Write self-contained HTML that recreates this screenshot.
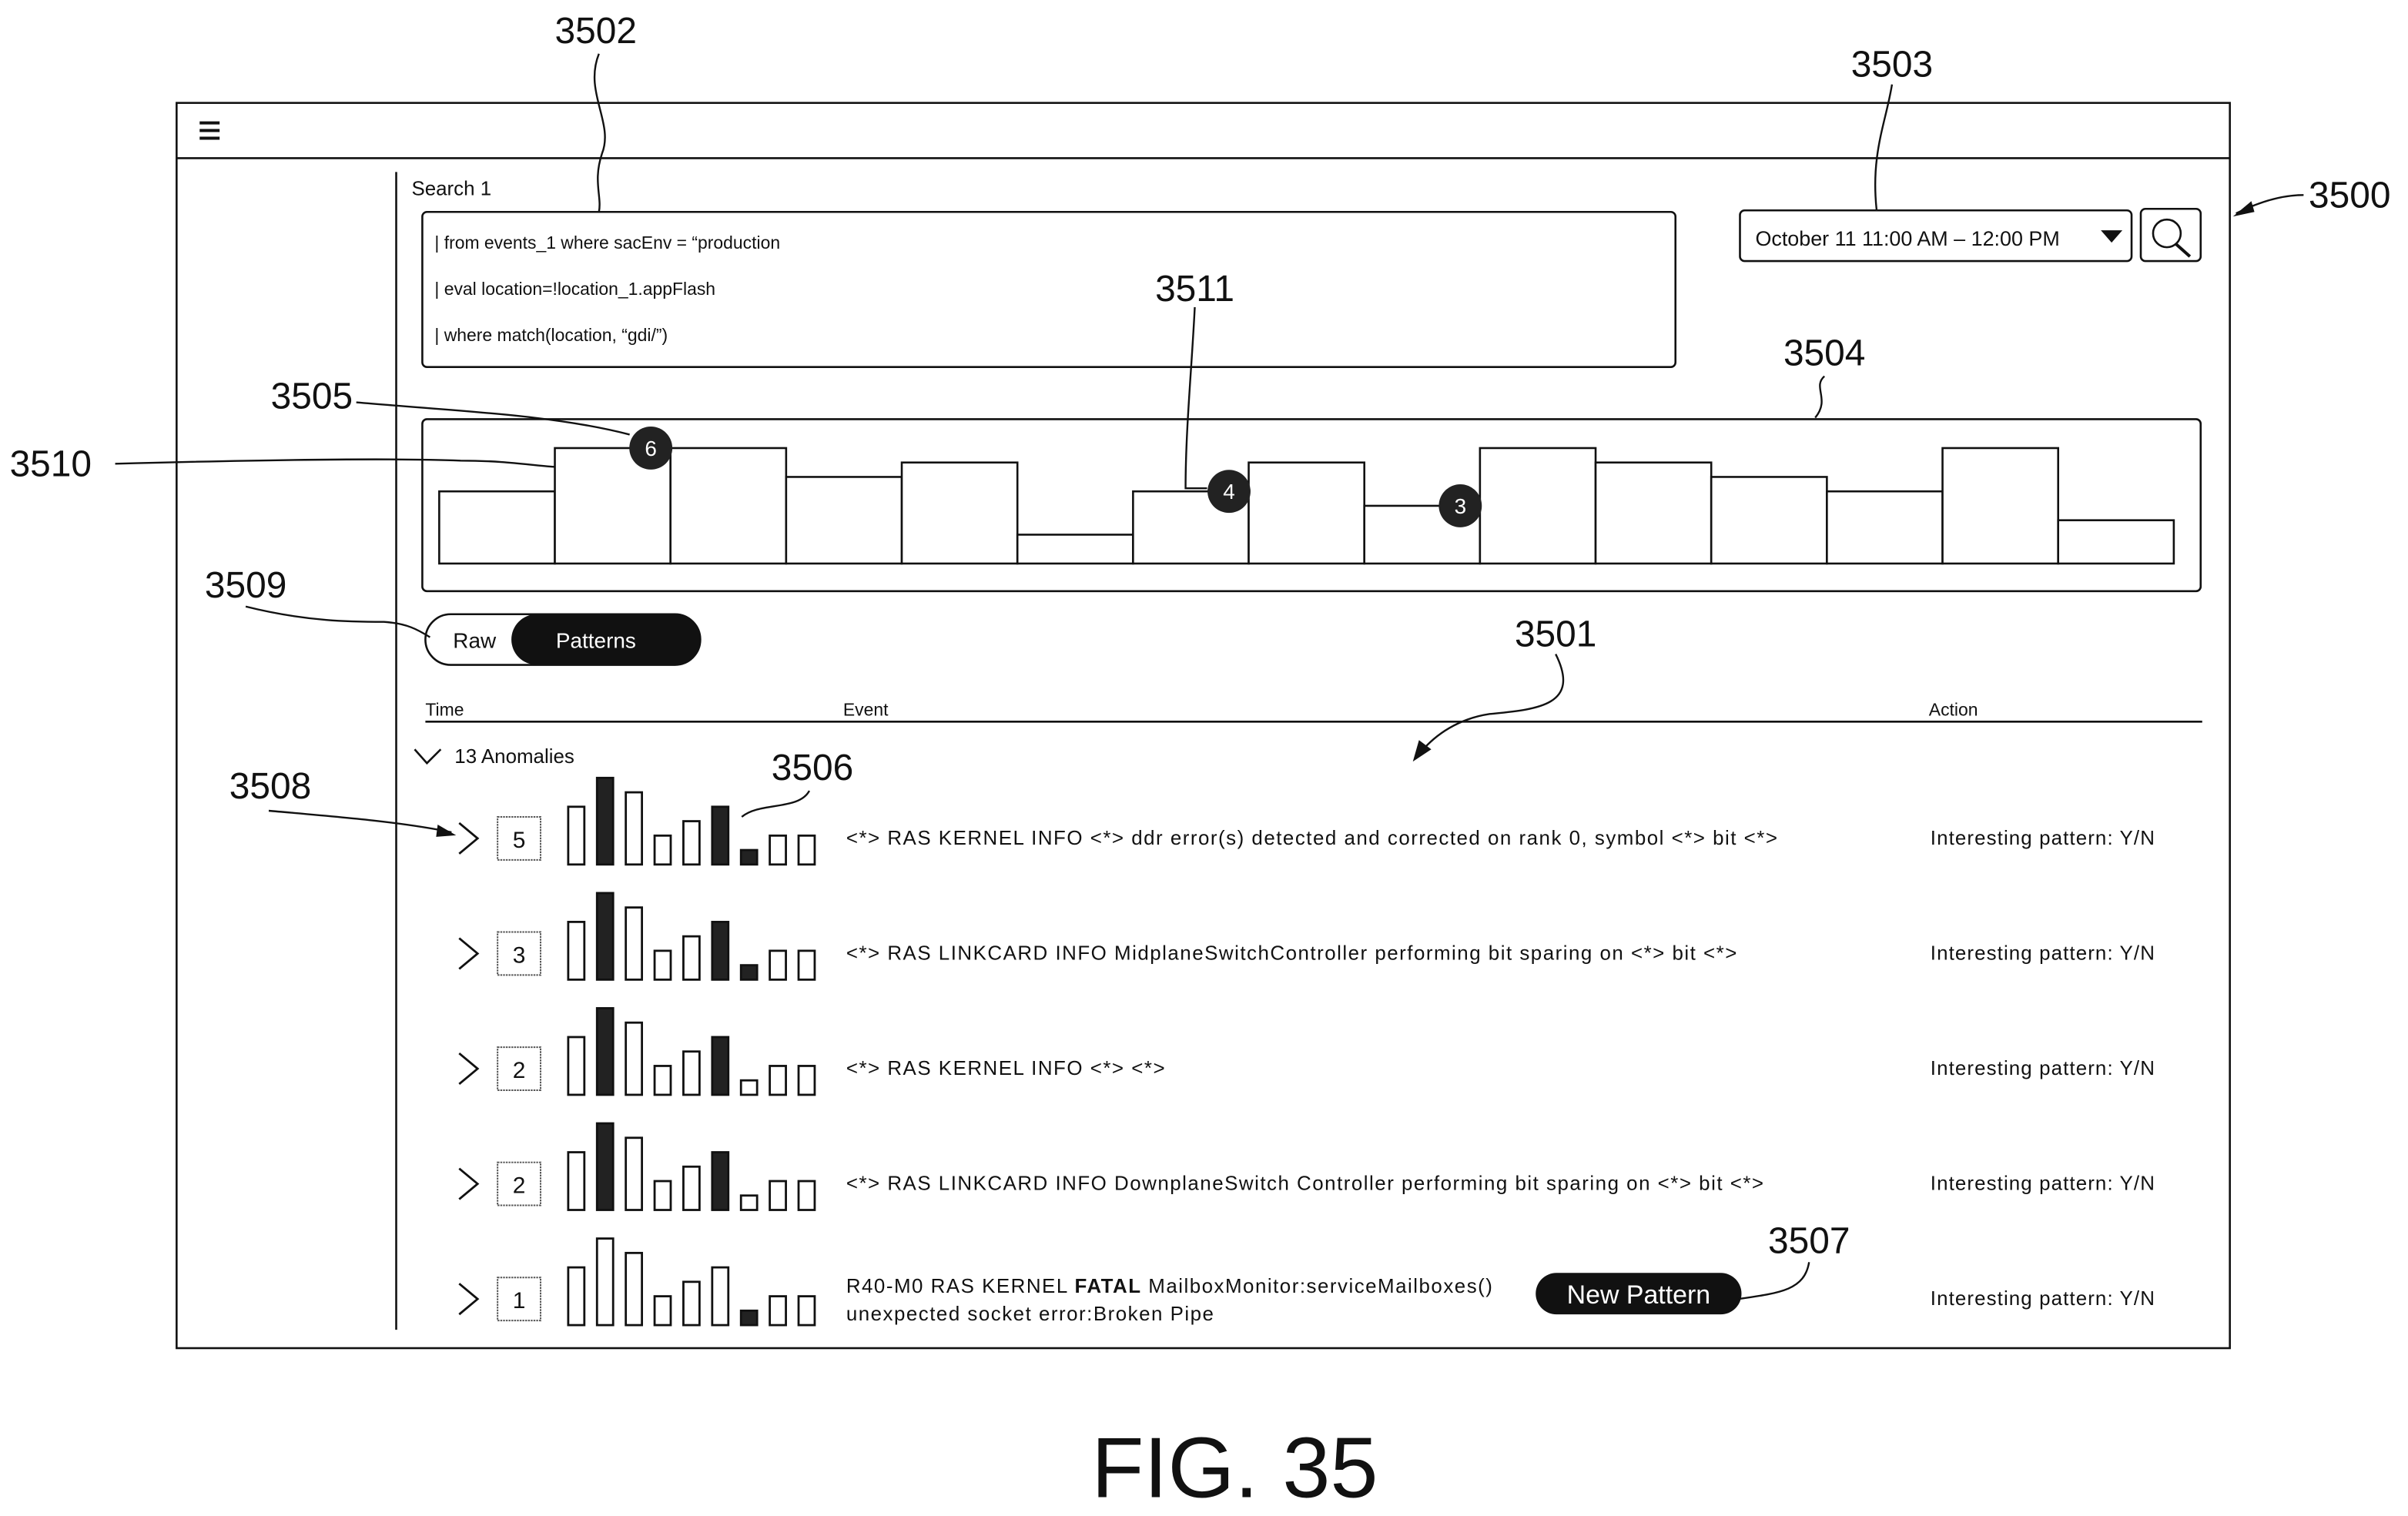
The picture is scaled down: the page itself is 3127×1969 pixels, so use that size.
<!DOCTYPE html>
<html><head><meta charset="utf-8"><style>
html,body{margin:0;padding:0;background:#fff}
svg{display:block}
text{font-family:"Liberation Sans",sans-serif;fill:#111}
</style></head><body>
<svg id="fig" width="3127" height="1969" viewBox="0 0 1568 987.3" xmlns="http://www.w3.org/2000/svg">
<g fill="none" stroke="#111" stroke-width="1.3">
<rect x="115" y="67" width="1337" height="811"/>
<line x1="115" y1="103" x2="1452" y2="103"/>
<line x1="258" y1="112" x2="258" y2="866"/>
<rect x="275" y="138" width="816" height="101" rx="3"/>
<rect x="1133" y="137" width="255" height="33" rx="3"/>
<rect x="1394" y="136" width="39" height="34" rx="3"/>
<circle cx="1411" cy="152" r="9"/>
<line x1="1417" y1="159" x2="1426" y2="167" stroke-width="2"/>
<rect x="275" y="273" width="1158" height="112" rx="3"/>
<line x1="277" y1="470" x2="1434" y2="470"/>
<polyline points="270,488 278,497 287,488"/>
</g>
<g stroke="#111" stroke-width="2">
<line x1="130" y1="80" x2="143" y2="80"/><line x1="130" y1="85" x2="143" y2="85"/><line x1="130" y1="90" x2="143" y2="90"/>
</g>
<text x="268" y="127" font-size="13">Search 1</text>
<text x="283" y="162" font-size="11.5">| from events_1 where sacEnv  = “production</text>
<text x="283" y="192" font-size="11.5">| eval location=!location_1.appFlash</text>
<text x="283" y="222" font-size="11.5">| where match(location, “gdi/”)</text>
<text x="1143" y="160" font-size="13.5">October 11 11:00 AM – 12:00 PM</text>
<polygon points="1368,150 1382,150 1375,158" fill="#111"/>
<g>
<rect x="277" y="400" width="179" height="33" rx="16.5" fill="#fff" stroke="#111" stroke-width="1.3"/>
<rect x="333" y="400" width="123" height="33" rx="16.5" fill="#111"/>
<text x="295" y="422" font-size="14">Raw</text>
<text x="362" y="422" font-size="14" style="fill:#fff">Patterns</text>
</g>
<text x="277" y="466" font-size="11.5">Time</text>
<text x="549" y="466" font-size="11.5">Event</text>
<text x="1256" y="466" font-size="11.5">Action</text>
<text x="296" y="497" font-size="13">13 Anomalies</text>
<g id="hist"></g>
<g id="rows"></g>
<g>
<rect x="1000" y="829" width="134" height="27" rx="13.5" fill="#111"/>
<text x="1067" y="849" font-size="17" text-anchor="middle" style="fill:#fff">New Pattern</text>
</g>
<g fill="none" stroke="#111" stroke-width="1.2">
<path d="M390,35 C380,60 400,80 392,100 C386,118 392,128 390,138"/>
<path d="M1232,55 C1228,80 1218,100 1222,137"/>
<path d="M1500,127 C1485,127 1470,132 1456,139"/>
<path d="M778,200 C776,240 772,280 772,318 L786,318"/>
<path d="M1188,245 C1180,252 1192,260 1182,272"/>
<path d="M232,262 C300,268 360,270 410,283"/>
<path d="M75,302 C150,300 250,298 300,300 C330,300 345,303 361,304"/>
<path d="M160,395 C200,405 230,405 250,405 C265,406 272,410 280,415"/>
<path d="M1013,426 C1030,460 1000,462 970,465 C950,468 935,478 925,490"/>
<path d="M175,528 C220,532 260,535 294,542"/>
<path d="M527,515 C520,528 495,522 483,532"/>
<path d="M1178,822 C1175,840 1160,842 1132,846"/>
</g>
<polygon points="1454,141 1466,131 1468,138" fill="#111"/>
<polygon points="920,496 924,482 932,488" fill="#111"/>
<polygon points="297,544 285,537 284,545" fill="#111"/>
<g font-size="24">
<text x="388" y="28" text-anchor="middle">3502</text>
<text x="1232" y="50" text-anchor="middle">3503</text>
<text x="1530" y="135" text-anchor="middle">3500</text>
<text x="778" y="196" text-anchor="middle">3511</text>
<text x="1188" y="238" text-anchor="middle">3504</text>
<text x="203" y="266" text-anchor="middle">3505</text>
<text x="33" y="310" text-anchor="middle">3510</text>
<text x="160" y="389" text-anchor="middle">3509</text>
<text x="1013" y="421" text-anchor="middle">3501</text>
<text x="176" y="520" text-anchor="middle">3508</text>
<text x="529" y="508" text-anchor="middle">3506</text>
<text x="1178" y="816" text-anchor="middle">3507</text>
</g>
<text x="804" y="975" font-size="56" text-anchor="middle">FIG. 35</text>
</svg>
<script>
const histValues = [5, 8, 8, 6, 7, 2, 5, 7, 4, 8, 7, 6, 5, 8, 3];
const histBadgeIdx = [1, 6, 8];
const histBadgeLabels = ['6', '4', '3'];
const rowCounts = ['5', '3', '2', '2', '1'];
const rowEvents = [
 ['<*> RAS KERNEL INFO <*> ddr error(s) detected and corrected on rank 0, symbol <*> bit <*>'],
 ['<*> RAS LINKCARD INFO MidplaneSwitchController performing bit sparing on <*> bit <*>'],
 ['<*> RAS KERNEL INFO <*> <*>'],
 ['<*> RAS LINKCARD INFO DownplaneSwitch Controller performing bit sparing on <*> bit <*>'],
 ['R40-M0 RAS KERNEL FATAL MailboxMonitor:serviceMailboxes()', 'unexpected socket error:Broken Pipe']
];
const sparkValues = [
 [4, 6, 5, 2, 3, 4, 1, 2, 2],
 [4, 6, 5, 2, 3, 4, 1, 2, 2],
 [4, 6, 5, 2, 3, 4, 1, 2, 2],
 [4, 6, 5, 2, 3, 4, 1, 2, 2],
 [4, 6, 5, 2, 3, 4, 1, 2, 2]
];
const sparkFilled = [
 [0, 1, 0, 0, 0, 1, 1, 0, 0],
 [0, 1, 0, 0, 0, 1, 1, 0, 0],
 [0, 1, 0, 0, 0, 1, 0, 0, 0],
 [0, 1, 0, 0, 0, 1, 0, 0, 0],
 [0, 0, 0, 0, 0, 0, 1, 0, 0]
];
const NS = 'http://www.w3.org/2000/svg';
function mk(tag, attrs, parent){const e=document.createElementNS(NS,tag);for(const k in attrs)e.setAttribute(k,attrs[k]);parent.appendChild(e);return e;}
const hx0=286, hbw=75.3, hbase=367, hunit=9.4;
const hxs=i=>hx0+i*hbw, hys=v=>hbase-v*hunit;
const hist=document.getElementById('hist');
histValues.forEach((v,i)=>{
 const r=mk('rect',{x:hxs(i),y:hys(v),width:hbw,height:hbase-hys(v),fill:'#fff',stroke:'#111','stroke-width':1.3},hist);
 
 
});
histBadgeIdx.forEach((idx,j)=>{
 const v=histValues[idx];
 const g=mk('g',{},hist);
 
 
 const cx=hxs(idx)+hbw*0.83;
 mk('circle',{cx:cx,cy:hys(v),r:14,fill:'#222'},g);
 const t=mk('text',{x:cx,y:hys(v)+5,'font-size':14,'text-anchor':'middle',style:'fill:#fff'},g);
 t.textContent=histBadgeLabels[j];
});
const rows=document.getElementById('rows');
const rowY=i=>546+i*75;
const sx=i=>370+i*18.75, sunit=9.4, sbw=10.5;
rowCounts.forEach((c,i)=>{
 const cy=rowY(i);
 const g=mk('g',{},rows);
 
 
 const ch=mk('polyline',{points:`${299},${cy-10} ${311},${cy} ${299},${cy+10}`,fill:'none',stroke:'#111','stroke-width':1.4},g);
 
 
 mk('rect',{x:324,y:cy-14,width:28,height:28,fill:'#fff',stroke:'#555','stroke-width':1,'stroke-dasharray':'1.2 0.6'},g);
 const ct=mk('text',{x:338,y:cy+6,'font-size':15,'text-anchor':'middle'},g);
 
 
 ct.textContent=c;
 const base=cy+17;
 sparkValues[i].forEach((v,k)=>{
  const f=sparkFilled[i][k];
  const b=mk('rect',{x:sx(k),y:base-v*sunit,width:sbw,height:v*sunit,fill:f?'#222':'#fff',stroke:'#111','stroke-width':1.4},g);
  
  
 });
 const lines=rowEvents[i];
 lines.forEach((ln,l)=>{
  const y=lines.length>1?cy-4+l*18:cy+4;
  const t=mk('text',{x:551,y:y,'font-size':13,'letter-spacing':0.75},g);
  
  
  if(ln.indexOf('FATAL')>=0){
   const p=ln.split('FATAL');
   t.appendChild(document.createTextNode(p[0]));
   const bs=mk('tspan',{'font-weight':'bold'},t);bs.textContent='FATAL';
   t.appendChild(document.createTextNode(p[1]));
  } else t.textContent=ln;
 });
 const a=mk('text',{x:1257,y:cy+4,'font-size':13,'letter-spacing':0.55},g);
 
 
 a.textContent='Interesting pattern: Y/N';
});
</script>
</body></html>
